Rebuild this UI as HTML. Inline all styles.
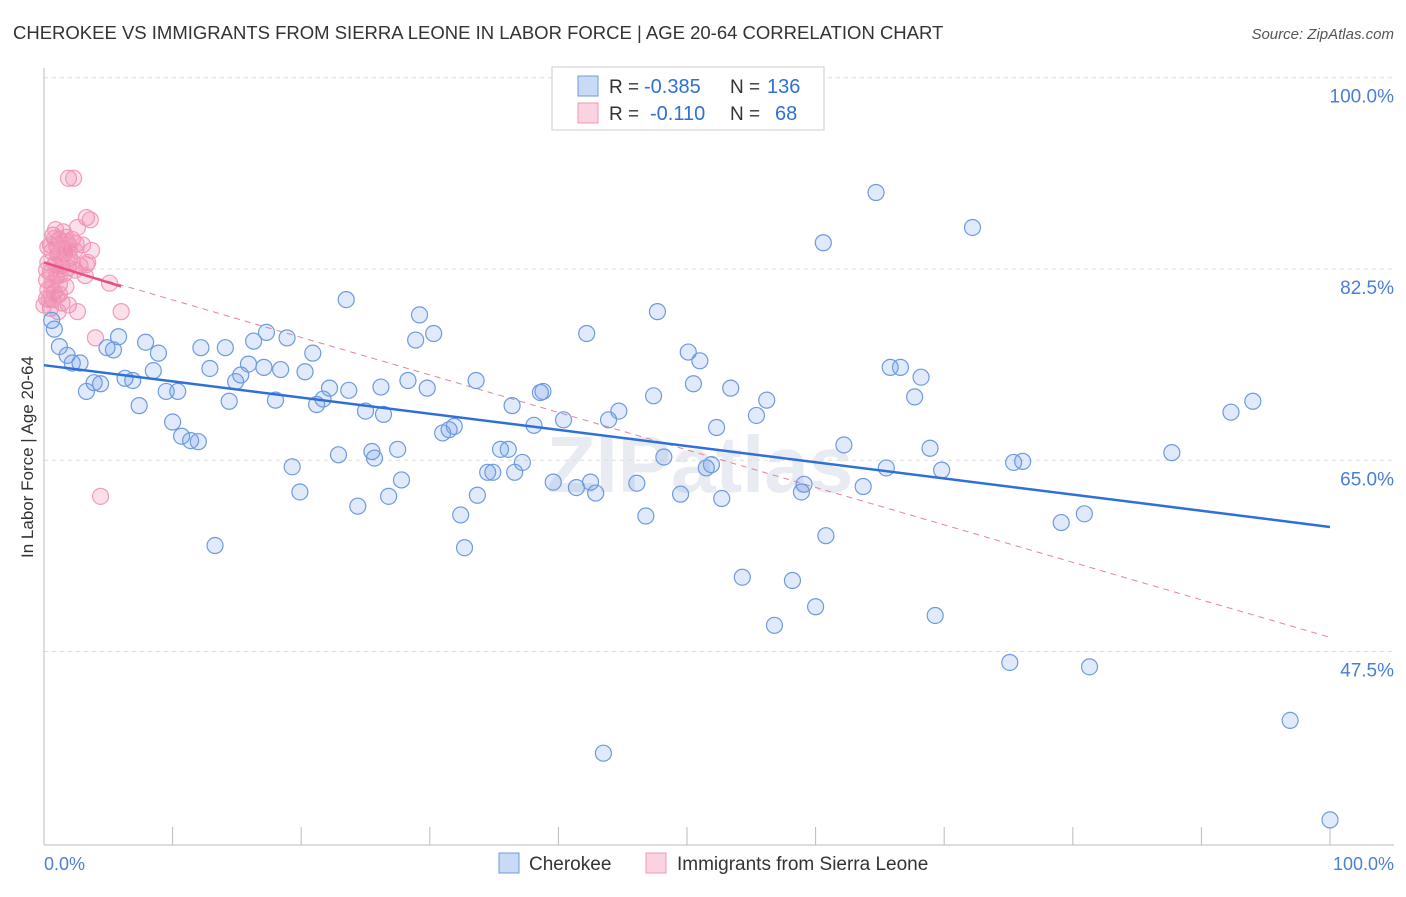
<!DOCTYPE html>
<html><head><meta charset="utf-8"><style>
body{margin:0;background:#fff;font-family:"Liberation Sans",sans-serif}
svg text{font-family:"Liberation Sans",sans-serif}
</style></head><body>
<svg id="chart" width="1406" height="892">
<text x="13" y="39" font-size="18.5" fill="#333">CHEROKEE VS IMMIGRANTS FROM SIERRA LEONE IN LABOR FORCE | AGE 20-64 CORRELATION CHART</text>
<text x="1394" y="39" font-size="15" fill="#555" font-style="italic" text-anchor="end">Source: ZipAtlas.com</text>
<text x="700" y="492" font-size="80" fill="#e8ecf2" font-weight="bold" text-anchor="middle">ZIPatlas</text>
<g id="grid"></g><g id="axes"></g><g id="trend"></g><g id="pts"></g>
<text transform="translate(33,457) rotate(-90)" font-size="17" fill="#333" text-anchor="middle">In Labor Force | Age 20-64</text>
<text x="44" y="870" font-size="18" fill="#4a7fd6">0.0%</text>
<text x="1394" y="870" font-size="18" fill="#4a7fd6" text-anchor="end">100.0%</text>
<g>
<rect x="552" y="67" width="272" height="63" fill="#fff" stroke="#ccc"/>
<rect x="578" y="76" width="20" height="20" fill="rgba(100,150,230,0.35)" stroke="#6d9be0"/>
<rect x="578" y="103" width="20" height="20" fill="rgba(240,130,170,0.35)" stroke="#f09ab8"/>
<text x="609" y="93" font-size="19" fill="#333">R =</text>
<text x="644" y="93" font-size="20" fill="#2f6fd8">-0.385</text>
<text x="730" y="93" font-size="19" fill="#333">N =</text>
<text x="767" y="93" font-size="20" fill="#2f6fd8">136</text>
<text x="609" y="120" font-size="19" fill="#333">R =</text>
<text x="650" y="120" font-size="20" fill="#2f6fd8">-0.110</text>
<text x="730" y="120" font-size="19" fill="#333">N =</text>
<text x="775" y="120" font-size="20" fill="#2f6fd8">68</text>
</g>
<g>
<rect x="499" y="853" width="20" height="20" fill="rgba(100,150,230,0.35)" stroke="#6d9be0"/>
<text x="529" y="870" font-size="19" fill="#333">Cherokee</text>
<rect x="646" y="853" width="20" height="20" fill="rgba(240,130,170,0.35)" stroke="#f09ab8"/>
<text x="677" y="870" font-size="19" fill="#333">Immigrants from Sierra Leone</text>
</g>
</svg>
<script>
const yTicks=[100,82.5,65,47.5];
const yTickLabels=["100.0%","82.5%","65.0%","47.5%"];
const blueX=[0.6,0.8,1.2,1.8,2.2,2.8,3.3,3.9,4.4,4.9,5.4,5.8,6.3,6.9,7.4,7.9,8.5,8.9,9.5,10.0,10.4,10.7,11.4,12.0,12.2,12.9,13.3,14.1,14.4,14.9,15.3,15.9,16.3,17.1,17.3,18.0,18.4,18.9,19.3,19.9,20.3,20.9,21.2,21.7,22.2,22.9,23.5,23.7,24.4,25.0,25.5,25.7,26.2,26.4,26.8,27.5,27.8,28.3,28.9,29.2,29.8,30.3,31.0,31.5,31.9,32.4,32.7,33.6,33.7,34.5,34.9,35.5,36.1,36.4,36.6,37.2,38.1,38.6,38.8,39.6,40.4,41.4,42.2,42.5,42.9,43.9,44.7,44.6,46.1,46.8,47.4,47.7,48.2,49.5,50.1,50.5,51.0,51.5,51.9,52.3,52.7,53.4,53.7,54.3,55.4,56.2,56.8,58.2,58.9,59.1,60.0,60.6,60.8,62.2,63.7,64.7,65.5,65.8,66.6,67.7,68.2,68.9,69.3,69.8,72.2,75.1,75.4,76.1,79.1,80.9,81.3,87.7,92.3,94.0,96.9,100,43.5];
const blueY=[77.8,77.0,75.4,74.6,73.9,73.9,71.3,72.1,72.0,75.3,75.1,76.3,72.5,72.3,70.0,75.8,73.2,74.8,71.3,68.5,71.3,67.2,66.8,66.7,75.3,73.4,57.2,75.3,70.4,72.2,72.8,73.8,75.9,73.5,76.7,70.5,73.3,76.2,64.4,62.1,73.1,74.8,70.1,70.6,71.6,65.5,79.7,71.4,60.8,69.5,65.8,65.2,71.7,69.2,61.7,66.0,63.2,72.3,76.0,78.3,71.6,76.6,67.5,67.8,68.1,60.0,57.0,72.3,61.8,63.9,63.9,66.0,66.0,70.0,63.9,64.8,68.2,71.2,71.3,63.0,68.7,62.5,76.6,63.0,62.0,68.7,69.5,99.8,62.9,59.9,70.9,78.6,65.3,61.9,74.9,72.0,74.1,64.3,64.6,68.0,61.5,71.6,99.8,54.3,69.1,70.5,49.9,54.0,62.1,62.8,51.6,84.9,58.1,66.4,62.6,89.5,64.3,73.5,73.5,70.8,72.6,66.1,50.8,64.1,86.3,46.5,64.8,64.9,59.3,60.1,46.1,65.7,69.4,70.4,41.2,32.1,38.2];
const pinkX=[1.9,2.3,3.3,3.6,2.6,0.7,1.2,1.8,2.2,0.5,1.0,1.5,1.9,2.5,3.7,0.6,1.1,1.6,2.0,0.3,0.9,1.4,1.9,2.4,3.4,0.5,1.0,1.6,0.2,0.6,1.2,1.7,5.1,0.3,0.8,1.2,0.2,0.7,1.4,1.9,0.5,1.1,2.6,6.0,4.0,4.4,0.9,3.0,1.4,2.2,0.2,2.8,0.9,1.6,0.4,1.2,3.3,0.8,2.4,1.7,0.6,1.1,2.0,0.3,1.5,3.2,1.0,0.0];
const pinkY=[90.8,90.8,87.2,87.0,86.3,85.6,85.2,85.0,85.2,84.7,84.6,84.4,84.7,84.8,84.2,84.1,83.8,83.9,83.5,83.1,82.9,82.8,82.6,82.4,83.1,82.2,81.9,82.1,81.5,81.2,81.1,80.9,81.2,80.6,80.4,80.2,79.8,79.7,79.4,79.2,78.9,78.6,78.6,78.6,76.2,61.7,86.1,84.7,83.5,83.1,82.4,82.8,83.1,84.2,79.7,81.9,82.9,85.3,84.2,85.4,80.9,82.4,84.2,84.5,85.9,81.9,80.0,79.2];
const blueTrendX=[0,100], blueTrendY=[73.7,58.9];
const pinkSolidX=[0,6], pinkSolidY=[83.1,80.9];
const pinkDashX=[0,100], pinkDashY=[83.1,48.8];
const NS="http://www.w3.org/2000/svg";
const X=v=>44+v*12.86, Y=v=>269+(82.5-v)*10.93;
function mk(t,a,p){const e=document.createElementNS(NS,t);for(const k in a)e.setAttribute(k,a[k]);p.appendChild(e);return e;}
const grid=document.getElementById('grid'),axes=document.getElementById('axes'),trend=document.getElementById('trend'),pts=document.getElementById('pts');
yTicks.forEach((t,i)=>{
 const l=mk('line',{x1:44,x2:1394,y1:Y(t),y2:Y(t),stroke:'#ddd','stroke-dasharray':'4,4'},grid);
 
 
 const tx=mk('text',{x:1394,y:Y(t)+25,'font-size':19,fill:'#4a7fd6','text-anchor':'end'},grid);
 tx.textContent=yTickLabels[i];
 
 
});
const ax=mk('line',{x1:44,x2:44,y1:68,y2:845,stroke:'#bbb'},axes);


const bx=mk('line',{x1:44,x2:1394,y1:845,y2:845,stroke:'#bbb'},axes);


for(let i=0;i<=10;i++){const t=mk('line',{x1:X(i*10),x2:X(i*10),y1:827,y2:845,stroke:'#bbb'},axes);
 
 }
pinkX.forEach((v,i)=>{const c=mk('circle',{cx:X(v),cy:Y(pinkY[i]),r:8,fill:'rgba(240,130,170,0.25)',stroke:'#f29bbb','stroke-width':1.2},pts);
 
 });
blueX.forEach((v,i)=>{const c=mk('circle',{cx:X(v),cy:Y(blueY[i]),r:8,fill:'rgba(100,150,230,0.2)',stroke:'#6d9be0','stroke-width':1.2},pts);
 
 });
const pd=mk('line',{x1:X(pinkDashX[0]),y1:Y(pinkDashY[0]),x2:X(pinkDashX[1]),y2:Y(pinkDashY[1]),stroke:'#e8809f','stroke-dasharray':'6,5','stroke-width':1},trend);


const bt=mk('line',{x1:X(blueTrendX[0]),y1:Y(blueTrendY[0]),x2:X(blueTrendX[1]),y2:Y(blueTrendY[1]),stroke:'#2f6fd8','stroke-width':2.5},pts);


const ps=mk('line',{x1:X(pinkSolidX[0]),y1:Y(pinkSolidY[0]),x2:X(pinkSolidX[1]),y2:Y(pinkSolidY[1]),stroke:'#e8507e','stroke-width':2.5},pts);


</script>
</body></html>
